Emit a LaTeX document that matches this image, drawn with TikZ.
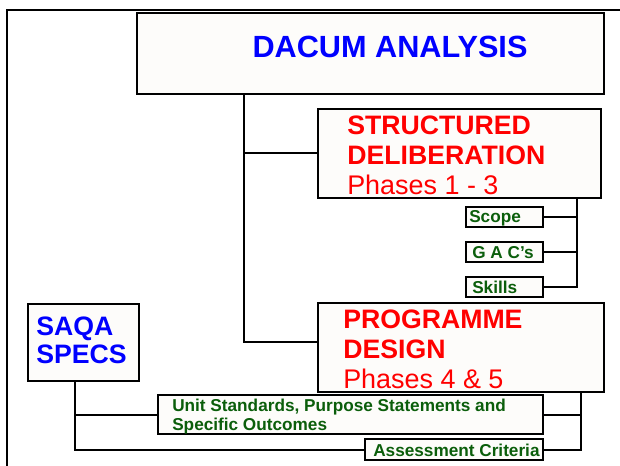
\documentclass[tikz,border=0pt]{standalone}
\usepackage{fontspec}
\setmainfont{Liberation Sans}
\usetikzlibrary{fit}

\definecolor{boxfill}{HTML}{FDFCFA}
\definecolor{titleblue}{HTML}{0000FF}
\definecolor{phasered}{HTML}{FF0000}
\definecolor{itemgreen}{HTML}{0B5E0B}

\tikzset{
  box/.style={draw=black, line width=1.5pt, fill=boxfill, inner sep=0pt},
  conn/.style={draw=black, line width=1.5pt},
  frame/.style={draw=black, line width=2pt},
  bluetitle/.style={text=titleblue, inner sep=0pt, font=\bfseries\fontsize{23pt}{27pt}\selectfont},
  bluelabel/.style={text=titleblue, inner sep=0pt, align=left,
    font=\bfseries\fontsize{20pt}{21pt}\selectfont},
  phase/.style={text=phasered, inner sep=0pt, anchor=base west},
  phasehead/.style={phase, font=\bfseries\fontsize{20pt}{22.5pt}\selectfont},
  phaseline/.style={phase, font=\fontsize{20.2pt}{22.5pt}\selectfont},
  item/.style={text=itemgreen, inner sep=0pt, anchor=base west,
    font=\bfseries\fontsize{12.9pt}{14.25pt}\selectfont},
}

\begin{document}
\begin{tikzpicture}[x=0.75pt, y=-0.75pt]
\useasboundingbox (0,0) rectangle (620,466);

% open frame along the left and top edges
\draw[frame] (7,480) -- (7,10) -- (640,10);

% boxes
\node (dacum)  [box, fit={(137,13) (604,94)}] {};
\node (sd)     [box, fit={(318,109) (601,198)}] {};
\node (scope)  [box, fit={(466,207) (543,227)}] {};
\node (gac)    [box, fit={(466,242) (543,262)}] {};
\node (skills) [box, fit={(466,277) (543,297)}] {};
\node (prog)   [box, fit={(318,303) (604,392)}] {};
\node (saqa)   [box, fit={(28,304) (139,381)}] {};
\node (unit)   [box, fit={(158,395) (543,434)}] {};
\node (assess) [box, fit={(365,439) (543,460)}] {};

% box texts
\node (dacumtxt) [bluetitle, anchor=base] at (390,58) {DACUM ANALYSIS};

\node (sdtxt1) [phasehead] at (347,134.5) {STRUCTURED};
\node (sdtxt2) [phasehead] at (347,164.5) {DELIBERATION};
\node (sdtxt3) [phaseline] at (347,194.5) {Phases 1 - 3};

\node (progtxt1) [phasehead] at (343,328.5) {PROGRAMME};
\node (progtxt2) [phasehead] at (343,358.5) {DESIGN};
\node (progtxt3) [phaseline] at (343,388.5) {Phases 4 \& 5};

\node (saqatxt1) [bluelabel, anchor=base west] at (36,335) {SAQA};
\node (saqatxt2) [bluelabel, anchor=base west] at (36,363) {SPECS};

\node (scopetxt)  [item] at (469,223) {Scope};
\node (gactxt)    [item] at (472,258) {G A C’s};
\node (skillstxt) [item] at (472,293) {Skills};

\node (unittxt1)  [item] at (172,411) {Unit Standards, Purpose Statements and};
\node (unittxt2)  [item] at (172,430) {Specific Outcomes};
\node (assesstxt) [item] at (373,456) {Assessment Criteria};

% trunk lines
\coordinate (trunkA) at (244,342);
\coordinate (trunkB) at (577,0);
\coordinate (trunkC) at (75,0);
\coordinate (trunkD) at (581,0);

% DACUM to the two phase boxes
\draw[conn] (dacum.south -| trunkA) -- (trunkA) -- (prog.west |- trunkA);
\draw[conn] (trunkA |- sd.west) -- (sd.west);

% structured deliberation outputs
\draw[conn] (sd.south -| trunkB) |- (skills.east);
\draw[conn] (scope.east) -- (scope.east -| trunkB);
\draw[conn] (gac.east) -- (gac.east -| trunkB);

% SAQA specs to the outcome boxes
\draw[conn] (saqa.south -| trunkC) |- (assess.west);
\draw[conn] (trunkC |- unit.west) -- (unit.west);

% programme design to the outcome boxes
\draw[conn] (prog.south -| trunkD) |- (assess.east);
\draw[conn] (unit.east) -- (unit.east -| trunkD);
\end{tikzpicture}
\end{document}
